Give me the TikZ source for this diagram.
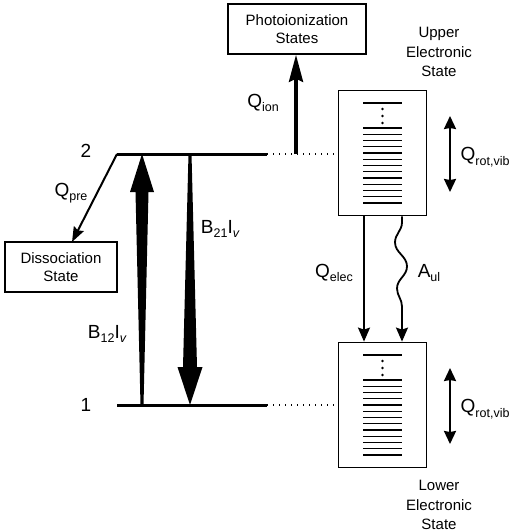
\documentclass[tikz,border=0pt]{standalone}
\usepackage{fontspec}
\setmainfont{Liberation Sans}
\usetikzlibrary{positioning, arrows.meta, calc}
\newcommand{\lsub}[2]{#1\raisebox{-0.45ex}{\fontsize{12.5}{12.5}\selectfont #2}}

\begin{document}
\begin{tikzpicture}[x=1pt, y=-1pt, >=Stealth,
    box/.style={draw, line width=1.6pt, minimum width=138pt, minimum height=50pt, align=center, inner sep=0pt, font=\fontsize{15}{18.5}\selectfont},
    statebox/.style={draw, line width=1.8pt, minimum width=88pt, minimum height=125pt, inner sep=0pt},
    lbl/.style={inner sep=0pt, font=\fontsize{19}{21}\selectfont},
    txt/.style={inner sep=0pt, align=center, font=\fontsize{15}{19.5}\selectfont},
    level/.style={line width=3pt},
    dots/.style={line width=1.3pt, dash pattern=on 1pt off 5pt},
    rung/.style={line width=1.4pt}]
\useasboundingbox (0,0) rectangle (514,532);

\node[box] (ion) at (297,29) {Photoionization\\States};
\node[box, minimum width=112pt] (diss) at (61,267) {Dissociation\\State};
\node[statebox] (up) at (382.5,153) {};
\node[statebox] (low) at (382.5,405) {};
\node[txt] (uptxt) at (439,52) {Upper\\Electronic\\State};
\node[txt] (lowtxt) at (439,505) {Lower\\Electronic\\State};

% energy levels
\coordinate (l2a) at (117,154);
\coordinate (l2b) at (267,154);
\coordinate (l1a) at (117,405);
\coordinate (l1b) at (267,405);
\draw[level] (l2a) -- (l2b);
\draw[level] (l1a) -- (l1b);
\draw[dots] (l2b) -- (up.west |- l2b);
\draw[dots] (l1b) -- (low.west |- l1b);
\node[lbl] (n2) at (86,151) {2};
\node[lbl] (n1) at (86,405) {1};

% sublevels in the boxes
\foreach \b in {up, low} {
    \draw[rung] ($(\b)+(-19.5,-50)$) -- ($(\b)+(19.5,-50)$);
    \foreach \d in {-44,-37,-30}
        \fill ($(\b)+(0,\d)$) circle (1.3pt);
    \foreach \i in {0,...,12}
        \draw[rung] ($(\b)+(-19.5,-25+6.25*\i)$) -- ($(\b)+(19.5,-25+6.25*\i)$);
    \coordinate (\b rt) at ($(\b)+(67.5,-37)$);
    \coordinate (\b rb) at ($(\b)+(67.5,39)$);
    \draw[{Stealth[length=13pt, width=12pt, inset=1pt]}-{Stealth[length=13pt, width=12pt, inset=1pt]}, line width=2.2pt] (\b rt) -- (\b rb);
    \node[lbl, anchor=west] at ($(\b)+(78,4)$) {\lsub{Q}{rot,vib}};
}

% photoionization
\coordinate (ionfoot) at (296,154);
\draw[-{Stealth[length=27pt, width=14pt, inset=3pt]}, line width=3.5pt] (ionfoot) -- (ion.south -| ionfoot);
\node[lbl] (qion) at (263,103) {\lsub{Q}{ion}};

% predissociation
\coordinate (dtip) at (72,242);
\draw[-{Stealth[length=15pt, width=11pt, inset=2pt]}, line width=2pt] (l2a) -- (dtip);
\node[lbl] (qpre) at (71,193) {\lsub{Q}{pre}};

% absorption and stimulated emission
\coordinate (b12bot) at (142,405);
\coordinate (b12top) at (142,154);
\fill ($(b12bot)+(-1.5,0)$) -- ($(b12bot)+(1.5,0)$) -- ($(b12top)+(6.5,38)$) -- ($(b12top)+(12,38)$)
    -- (b12top) -- ($(b12top)+(-12,38)$) -- ($(b12top)+(-6.5,38)$) -- cycle;
\coordinate (b21top) at (190,154);
\coordinate (b21bot) at (190,405);
\fill ($(b21top)+(-1.5,0)$) -- ($(b21top)+(1.5,0)$) -- ($(b21bot)+(7,-38)$) -- ($(b21bot)+(12.5,-38)$)
    -- (b21bot) -- ($(b21bot)+(-12.5,-38)$) -- ($(b21bot)+(-7,-38)$) -- cycle;
\node[lbl] (b21) at (220,229) {\lsub{B}{21}I\raisebox{-0.45ex}{\fontsize{12.5}{12.5}\selectfont\itshape v}};
\node[lbl] (b12) at (107,334) {\lsub{B}{12}I\raisebox{-0.45ex}{\fontsize{12.5}{12.5}\selectfont\itshape v}};

% electronic quenching and spontaneous emission
\coordinate (elec) at (364,280);
\coordinate (spon) at (402,280);
\draw[-{Stealth[length=14pt, width=12pt, inset=2pt]}, line width=1.8pt] (up.south -| elec) -- (low.north -| elec);
\draw[-{Stealth[length=14pt, width=12pt, inset=2pt]}, line width=1.8pt] (up.south -| spon) -- ++(0,6)
    to[out=-90, in=90] ++(-7,20) to[out=-90, in=90] ++(12,24) to[out=-90, in=90] ++(-10,22)
    to[out=-90, in=90] ++(5,18) -- (low.north -| spon);
\node[lbl] (qelec) at (334,273) {\lsub{Q}{elec}};
\node[lbl] (aul) at (429,273) {\lsub{A}{ul}};
\end{tikzpicture}
\end{document}
